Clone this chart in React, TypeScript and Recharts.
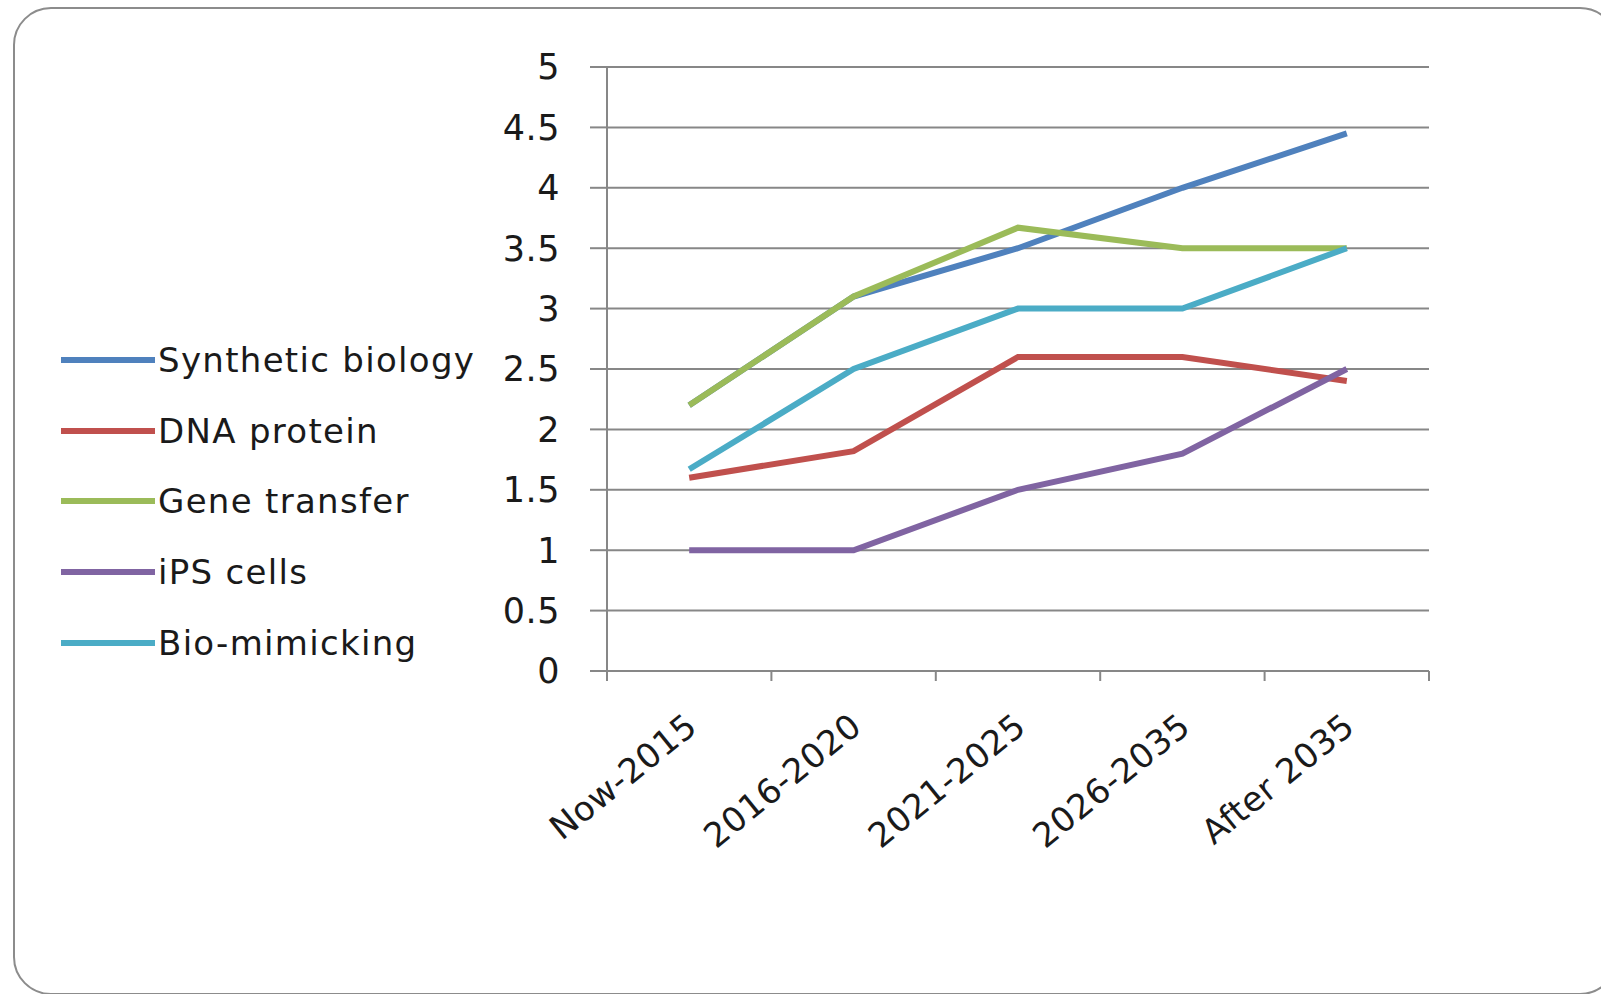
import React from "react";
import {
  ComposedChart,
  Line,
  XAxis,
  YAxis,
  CartesianGrid,
  Legend,
} from "recharts";

const periods = ["Now-2015", "2016-2020", "2021-2025", "2026-2035", "After 2035"];
const syntheticBiology = [2.2, 3.1, 3.5, 4.0, 4.45];
const dnaProtein = [1.6, 1.82, 2.6, 2.6, 2.4];
const geneTransfer = [2.2, 3.1, 3.67, 3.5, 3.5];
const ipsCells = [1.0, 1.0, 1.5, 1.8, 2.5];
const bioMimicking = [1.67, 2.5, 3.0, 3.0, 3.5];
const yTicks = [0, 0.5, 1, 1.5, 2, 2.5, 3, 3.5, 4, 4.5, 5];
const boundaryTicks = [-0.5, 0.5, 1.5, 2.5, 3.5, 4.5];

const seriesDefs = [
  { key: "synthetic", name: "Synthetic biology", values: syntheticBiology, color: "#4F81BD" },
  { key: "dna", name: "DNA protein", values: dnaProtein, color: "#C0504D" },
  { key: "gene", name: "Gene transfer", values: geneTransfer, color: "#9BBB59" },
  { key: "ips", name: "iPS cells", values: ipsCells, color: "#8064A2" },
  { key: "bio", name: "Bio-mimicking", values: bioMimicking, color: "#4BACC6" },
];
const seriesOrder = seriesDefs.map((s) => s.name);

const data = periods.map((p, i) => {
  const row: Record<string, string | number> = { period: p, idx: i };
  seriesDefs.forEach((s) => {
    row[s.key] = s.values[i];
  });
  return row;
});

const FONT = "'DejaVu Sans', sans-serif";
const GRID = "#878787";
const LEGEND_W = 430;

const CategoryTick = (props: any) => {
  const { x, y, payload } = props;
  return (
    <g transform={`translate(${x + 10},${y + 47})`}>
      <text
        transform="rotate(-39)"
        textAnchor="end"
        fontFamily={FONT}
        fontSize={34}
        letterSpacing={0.5}
        fill="#1a1a1a"
      >
        {payload.value}
      </text>
    </g>
  );
};

const LegendContent = (props: any) => {
  const items = [...(props.payload || [])].sort(
    (a: any, b: any) => seriesOrder.indexOf(a.value) - seriesOrder.indexOf(b.value)
  );
  return (
    <div>
      {items.map((entry: any) => (
        <div
          key={entry.value}
          style={{ display: "flex", alignItems: "center", height: 70.6 }}
        >
          <svg width={94} height={8}>
            <line x1={0} y1={4} x2={94} y2={4} stroke={entry.color} strokeWidth={6} />
          </svg>
          <span
            style={{
              fontFamily: FONT,
              fontSize: 34,
              letterSpacing: 1.3,
              color: "#1a1a1a",
              marginLeft: 3,
              whiteSpace: "nowrap",
            }}
          >
            {entry.value}
          </span>
        </div>
      ))}
    </div>
  );
};

export default function App() {
  return (
    <div
      style={{
        position: "absolute",
        left: 0,
        top: 0,
        width: 1601,
        height: 994,
        background: "#ffffff",
        overflow: "hidden",
      }}
    >
      <div
        style={{
          position: "absolute",
          left: 13,
          top: 7,
          width: 1605,
          height: 988,
          border: "2px solid #8c8c8c",
          borderRadius: 38,
          boxSizing: "border-box",
        }}
      />
      <div style={{ position: "absolute", left: 0, top: 0 }}>
        <ComposedChart
          width={1601}
          height={994}
          data={data}
          margin={{ top: 67, right: 172, bottom: 103, left: 497 - LEGEND_W }}
        >
          <CartesianGrid vertical={false} stroke={GRID} strokeWidth={2} />
          <XAxis
            dataKey="idx"
            type="number"
            domain={[-0.5, 4.5]}
            ticks={boundaryTicks}
            allowDataOverflow
            tickFormatter={() => ""}
            tickSize={10}
            height={12}
            axisLine={{ stroke: GRID, strokeWidth: 2 }}
            tickLine={{ stroke: GRID, strokeWidth: 2 }}
          />
          <XAxis
            xAxisId="cat"
            dataKey="period"
            type="category"
            scale="band"
            axisLine={false}
            tickLine={false}
            tickSize={0}
            tickMargin={0}
            height={208}
            interval={0}
            tick={<CategoryTick />}
          />
          <YAxis
            domain={[0, 5]}
            ticks={yTicks}
            width={110}
            tickSize={17}
            tickMargin={30}
            axisLine={{ stroke: GRID, strokeWidth: 2 }}
            tickLine={{ stroke: GRID, strokeWidth: 2 }}
            tick={{ fontFamily: FONT, fontSize: 35, fill: "#1a1a1a", letterSpacing: 0.5 }}
            interval={0}
          />
          <Legend
            layout="vertical"
            align="left"
            verticalAlign="middle"
            content={<LegendContent />}
            wrapperStyle={{ left: 61, top: 325, width: LEGEND_W }}
          />
          {seriesDefs.map((s) => (
            <Line
              key={s.key}
              xAxisId="cat"
              dataKey={s.key}
              name={s.name}
              stroke={s.color}
              strokeWidth={6}
              dot={false}
              activeDot={false}
              isAnimationActive={false}
            />
          ))}
        </ComposedChart>
      </div>
    </div>
  );
}
